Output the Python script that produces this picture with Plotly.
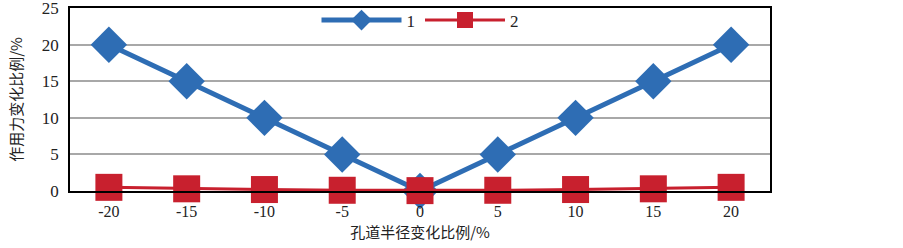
import plotly.graph_objects as go

categories = ["-20", "-15", "-10", "-5", "0", "5", "10", "15", "20"]
series1 = [20, 15, 10, 5, 0, 5, 10, 15, 20]
series2 = [0.5, 0.3, 0.2, 0.1, 0.05, 0.1, 0.2, 0.3, 0.5]
y_ticks = [0, 5, 10, 15, 20, 25]

blue = "#2E6DB4"
red = "#C8202E"
serif = "Liberation Serif, Times New Roman, serif"
cjk = "Noto Sans CJK SC, sans-serif"

fig = go.Figure()
fig.add_trace(go.Scatter(
    x=categories, y=series1, name="1", mode="lines+markers",
    line=dict(color=blue, width=5),
    marker=dict(symbol="diamond", size=28, color=blue),
    cliponaxis=False,
))
fig.add_trace(go.Scatter(
    x=categories, y=series2, name="2", mode="lines+markers",
    line=dict(color=red, width=3),
    marker=dict(symbol="square", size=27, color=red),
    cliponaxis=False,
))

fig.update_layout(
    width=903, height=248,
    margin=dict(l=70, r=133, t=8, b=57, autoexpand=False),
    paper_bgcolor="white", plot_bgcolor="white",
    font=dict(family=serif, size=16, color="#222"),
    showlegend=True,
    legend=dict(orientation="h", x=0.5, xanchor="center", y=1.03, yanchor="top",
                font=dict(family=serif, size=17), itemwidth=80,
                bgcolor="rgba(0,0,0,0)"),
    xaxis=dict(
        type="category", range=[-0.5, 8.5], automargin=False,
        showline=True, linecolor="black", linewidth=1.5, mirror=True,
        showgrid=False, ticks="outside", ticklen=5, tickcolor="rgba(0,0,0,0)",
        tickfont=dict(family=serif, size=16),
        title=dict(text="孔道半径变化比例/%", font=dict(family=cjk, size=15), standoff=9),
    ),
    yaxis=dict(
        range=[0, 25.02], tickvals=y_ticks, automargin=False,
        ticklabeloverflow="allow",
        showline=True, linecolor="black", linewidth=1.5, mirror=True,
        showgrid=True, gridcolor="#A8A8A8", gridwidth=1.5, zeroline=False,
        ticks="outside", ticklen=6, tickcolor="rgba(0,0,0,0)",
        tickfont=dict(family=serif, size=17),
        title=dict(text="作用力变化比例/%", font=dict(family=cjk, size=15), standoff=16),
    ),
)

fig.write_html("out.html", config={"displayModeBar": False},
               post_script="document.body.style.margin='0';document.body.style.overflow='hidden';")
